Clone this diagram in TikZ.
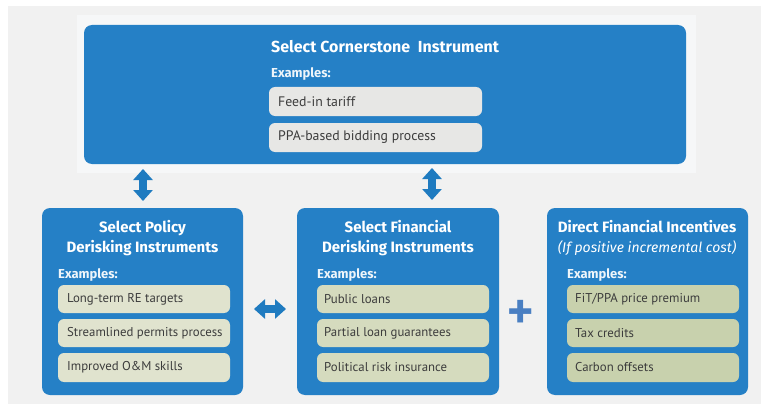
\documentclass[tikz,border=0pt]{standalone}
\usepackage{fontspec}
\setmainfont{PT Sans}
\newfontfamily\headfont{Fira Sans}
\usetikzlibrary{arrows.meta}
\definecolor{bgcol}{HTML}{F1F1F1}
\definecolor{halocol}{HTML}{F6F7F8}
\definecolor{boxblue}{HTML}{2580C6}
\definecolor{arrblue}{HTML}{1F7BC0}
\definecolor{plusblue}{HTML}{4A7FC2}
\definecolor{topitem}{HTML}{E7E7E5}
\definecolor{politem}{HTML}{E0E3CE}
\definecolor{finitem}{HTML}{D5DBBE}
\definecolor{incitem}{HTML}{C8D1AD}
\definecolor{itemtext}{HTML}{3C3C3C}
\tikzset{
  bluebox/.style={fill=boxblue, rounded corners=8pt, inner sep=0pt},
  itemtxt/.style={anchor=west, text=itemtext, font=\fontsize{12.8}{14}\selectfont, inner sep=0pt},
  boxtitle/.style={text=white, font=\headfont\fontsize{15}{20}\bfseries\selectfont, align=center, inner sep=0pt},
  examples/.style={anchor=west, text=white!92!boxblue, font=\headfont\fontsize{13}{14}\bfseries\selectfont, inner sep=0pt},
  blockarrow/.style={arrblue, line width=8pt, {Triangle[width=19pt,length=11pt]}-{Triangle[width=19pt,length=11pt]}}
}
\begin{document}
\begin{tikzpicture}[x=1pt, y=-1pt]
\fill[white] (0,0) rectangle (761,404);
\fill[bgcol] (8,6) rectangle (761,404);
\fill[halocol] (77,15) rectangle (696,173);
\useasboundingbox (0,0) rectangle (761,404);

% cornerstone box
\fill[bluebox] (84,25) rectangle (686,164);
\node[anchor=west, boxtitle, font=\headfont\fontsize{16}{20}\bfseries\selectfont] (corner) at (271,47) {Select Cornerstone\ \ Instrument};
\node[examples] (cornerex) at (271,74) {Examples:};
\fill[topitem, rounded corners=6pt] (269,87) rectangle (482,116);
\fill[topitem, rounded corners=6pt] (269,123) rectangle (482,152);
\node[itemtxt, font=\fontsize{13.8}{14}\selectfont] (fit) at (278,101.5) {Feed-in tariff};
\node[itemtxt, font=\fontsize{13.8}{14}\selectfont] (ppa) at (278,137.5) {PPA-based bidding process};

% policy box
\fill[bluebox] (42,208) rectangle (243,395);
\node[boxtitle] (policy) at (142.5,238) {Select Policy\\Derisking Instruments};
\node[examples] (policyex) at (58,275) {Examples:};
\fill[politem, rounded corners=6pt] (58,285) rectangle (230,313);
\fill[politem, rounded corners=6pt] (58,319) rectangle (230,347);
\fill[politem, rounded corners=6pt] (58,353) rectangle (230,382);
\node[itemtxt] (targets) at (67,299) {Long-term RE targets};
\node[itemtxt] (permits) at (67,333) {Streamlined permits process};
\node[itemtxt] (skills) at (67,367.5) {Improved O\&M skills};

% financial box
\fill[bluebox] (297,208) rectangle (499,395);
\node[boxtitle] (financial) at (398,238) {Select Financial\\Derisking Instruments};
\node[examples] (financialex) at (317,275) {Examples:};
\fill[finitem, rounded corners=6pt] (317,285) rectangle (489,313);
\fill[finitem, rounded corners=6pt] (317,319) rectangle (489,347);
\fill[finitem, rounded corners=6pt] (317,353) rectangle (489,382);
\node[itemtxt] (loans) at (324,299) {Public loans};
\node[itemtxt] (guarantees) at (324,333) {Partial loan guarantees};
\node[itemtxt] (insurance) at (324,367.5) {Political risk insurance};

% incentives box
\fill[bluebox] (547,208) rectangle (748,395);
\node[boxtitle] (incentives) at (647,238) {Direct Financial Incentives\\{\mdseries\itshape\fontsize{14}{20}\selectfont (If positive incremental cost)}};
\node[examples] (incentivesex) at (567,275) {Examples:};
\fill[incitem, rounded corners=6pt] (567,285) rectangle (739,313);
\fill[incitem, rounded corners=6pt] (567,319) rectangle (739,347);
\fill[incitem, rounded corners=6pt] (567,353) rectangle (739,382);
\node[itemtxt] (premium) at (575,299) {FiT/PPA price premium};
\node[itemtxt] (credits) at (575,333) {Tax credits};
\node[itemtxt] (offsets) at (575,367.5) {Carbon offsets};

% arrows and plus
\coordinate (a1) at (143,169);
\coordinate (a2) at (143,201);
\coordinate (b1) at (432,168);
\coordinate (b2) at (432,200);
\coordinate (c1) at (254,309);
\coordinate (c2) at (286,309);
\draw[blockarrow] (a1) -- (a2);
\draw[blockarrow] (b1) -- (b2);
\draw[blockarrow] (c1) -- (c2);
\node[text=plusblue, font=\fontsize{50}{50}\bfseries\selectfont, inner sep=0pt] (plus) at (521,314) {+};
\end{tikzpicture}
\end{document}
